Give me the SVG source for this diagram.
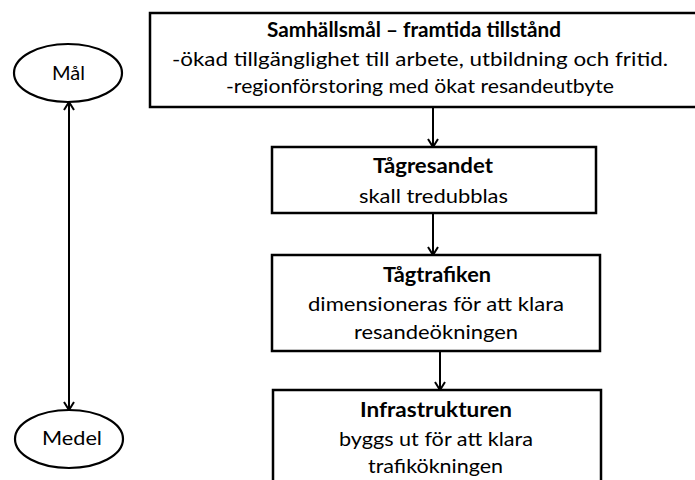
<svg xmlns="http://www.w3.org/2000/svg" width="695" height="480" viewBox="0 0 695 480">
<defs>
<style>
.box{fill:#fff;stroke:#000;stroke-width:2.5}
.ell{fill:#fff;stroke:#000;stroke-width:2.2}
.t{font-family:Lato,"Liberation Sans",Arial,sans-serif;font-size:20px;fill:#000;text-anchor:middle}
.b{font-weight:bold}
.con{fill:none;stroke:#000;stroke-width:2}
</style>
<marker id="arr" viewBox="0 0 12 12" refX="11" refY="6" markerWidth="12" markerHeight="12" markerUnits="userSpaceOnUse" orient="auto-start-reverse">
<path d="M3,1 L11,6 L3,11" fill="none" stroke="#000" stroke-width="2"/>
</marker>
</defs>
<rect width="695" height="480" fill="#fff"/>
<g id="connectors">
<line class="con" x1="433" y1="107" x2="433" y2="147" marker-end="url(#arr)"/>
<line class="con" x1="433" y1="213" x2="433" y2="255" marker-end="url(#arr)"/>
<line class="con" x1="440" y1="351" x2="440" y2="390" marker-end="url(#arr)"/>
<line class="con" x1="69" y1="102" x2="69" y2="410" marker-start="url(#arr)" marker-end="url(#arr)"/>
</g>
<g id="node-mal">
<ellipse class="ell" cx="68" cy="73" rx="54" ry="29"/>
<text class="t" x="68.5" y="80" textLength="33" lengthAdjust="spacingAndGlyphs">Mål</text>
</g>
<g id="node-medel">
<ellipse class="ell" cx="69" cy="439" rx="54" ry="29"/>
<text class="t" x="72" y="445" textLength="60" lengthAdjust="spacingAndGlyphs">Medel</text>
</g>
<g id="node-samhallsmal">
<rect class="box" x="150" y="13" width="560" height="94"/>
<text class="t b" x="414" y="37" textLength="294" lengthAdjust="spacingAndGlyphs">Samhällsmål – framtida tillstånd</text>
<text class="t" x="420" y="66" textLength="496" lengthAdjust="spacingAndGlyphs">-ökad tillgänglighet till arbete, utbildning och fritid.</text>
<text class="t" x="420" y="93" textLength="388" lengthAdjust="spacingAndGlyphs">-regionförstoring med ökat resandeutbyte</text>
</g>
<g id="node-tagresandet">
<rect class="box" x="272" y="147" width="324" height="66"/>
<text class="t b" x="433" y="173" textLength="120" lengthAdjust="spacingAndGlyphs">Tågresandet</text>
<text class="t" x="433.5" y="203" textLength="149" lengthAdjust="spacingAndGlyphs">skall tredubblas</text>
</g>
<g id="node-tagtrafiken">
<rect class="box" x="272" y="255" width="328" height="96"/>
<text class="t b" x="437" y="282" textLength="108" lengthAdjust="spacingAndGlyphs">Tågtrafiken</text>
<text class="t" x="436" y="311" textLength="256" lengthAdjust="spacingAndGlyphs">dimensioneras för att klara</text>
<text class="t" x="436" y="339" textLength="164" lengthAdjust="spacingAndGlyphs">resandeökningen</text>
</g>
<g id="node-infrastrukturen">
<rect class="box" x="273" y="390" width="328" height="110"/>
<text class="t b" x="436" y="417" textLength="152" lengthAdjust="spacingAndGlyphs">Infrastrukturen</text>
<text class="t" x="436" y="446" textLength="194" lengthAdjust="spacingAndGlyphs">byggs ut för att klara</text>
<text class="t" x="435.5" y="473" textLength="135" lengthAdjust="spacingAndGlyphs">trafikökningen</text>
</g>
</svg>
